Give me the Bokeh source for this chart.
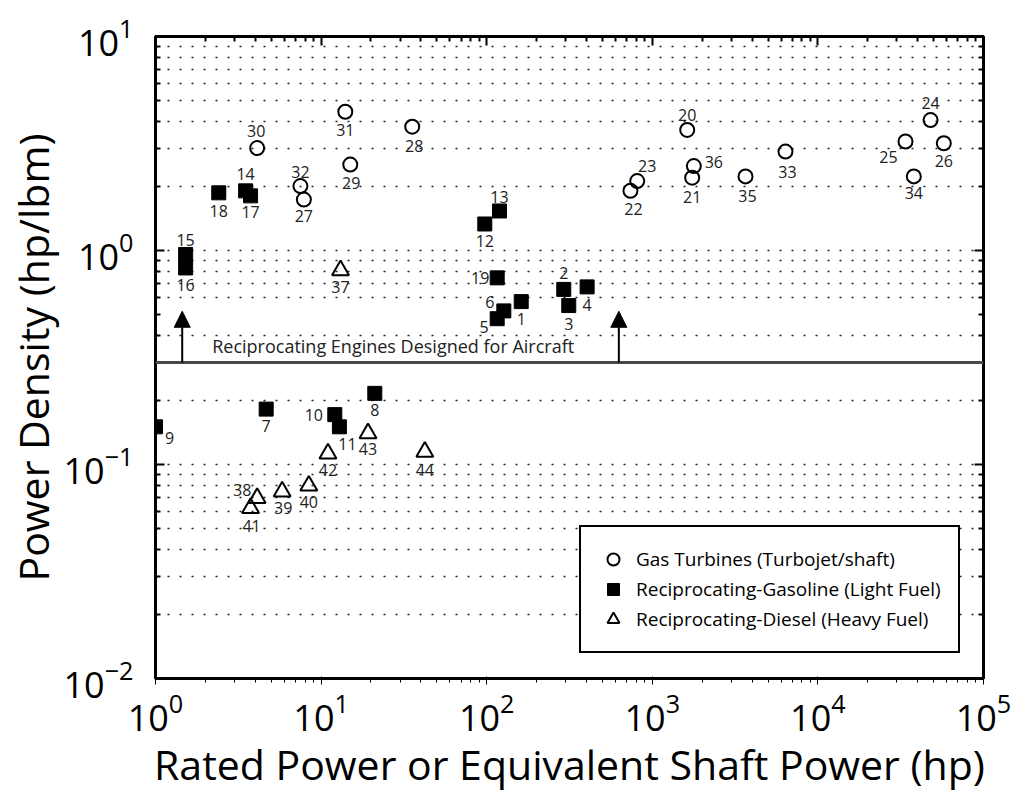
from bokeh.plotting import figure
from bokeh.models import (FixedTicker, LogAxis, Span, Arrow, NormalHead, Label,
                          Legend, LegendItem, ColumnDataSource)
from bokeh.embed import file_html
from bokeh.resources import INLINE
from bokeh.core.properties import value

# ---------------- data ----------------
# Gas turbines (turbojet / turboshaft)
gt_id = [20, 21, 22, 23, 24, 25, 26, 27, 28, 29, 30, 31, 32, 33, 34, 35, 36]
gt_power = [1625, 1741, 738, 811, 47900, 33800, 57600, 7.87, 35.5, 15.0,
            4.11, 14.0, 7.5, 6370, 37950, 3655, 1782]
gt_density = [3.66, 2.19, 1.90, 2.11, 4.07, 3.23, 3.17, 1.73, 3.79, 2.52,
              3.01, 4.45, 2.00, 2.90, 2.22, 2.22, 2.48]

# Reciprocating - gasoline (light fuel)
gas_id = [1, 2, 3, 4, 5, 6, 7, 8, 9, 10, 11, 12, 13, 14, 15, 16, 17, 18, 19]
gas_power = [161.6, 292, 313, 404, 115.7, 126.9, 4.66, 21.1, 1.0, 12.1, 12.9,
             97.4, 119.5, 3.50, 1.52, 1.52, 3.75, 2.41, 115.7]
gas_density = [0.577, 0.658, 0.553, 0.676, 0.480, 0.522, 0.1815, 0.215, 0.150,
               0.171, 0.150, 1.33, 1.53, 1.90, 0.958, 0.829, 1.80, 1.86, 0.745]

# Reciprocating - diesel (heavy fuel)
ds_id = [37, 38, 39, 40, 41, 42, 43, 44]
ds_power = [13.1, 4.11, 5.82, 8.43, 3.75, 11.0, 19.2, 42.3]
ds_density = [0.808, 0.0697, 0.0748, 0.0796, 0.0625, 0.1125, 0.140, 0.1146]

# aircraft reciprocating engine threshold and arrows
aircraft_threshold = 0.3
arrow_power = [1.45, 628]
arrow_top = 0.52

x_major = [1, 10, 100, 1e3, 1e4, 1e5]
y_major = [0.01, 0.1, 1, 10]

# ---------------- layout helpers ----------------
# label placement (screen px, +dy downward) per point number
label_offset = {
    1: (0, 17), 2: (0, -16), 3: (0, 18), 4: (0, 18), 5: (-13, 8), 6: (-14, -9),
    7: (0, 17), 8: (0, 17), 9: (14, 11), 10: (-21, 0), 11: (8, 17), 12: (0, 17),
    13: (0, -14), 14: (0, -17), 15: (0, -14), 16: (0, 17), 17: (0, 16), 18: (0, 18),
    19: (-17, 0), 20: (0, -15), 21: (0, 19), 22: (3, 18), 23: (10, -15), 24: (0, -17),
    25: (-17, 15), 26: (0, 18), 27: (0, 16), 28: (2, 19), 29: (1, 18), 30: (-1, -17),
    31: (0, 18), 32: (0, -14), 33: (2, 20), 34: (0, 17), 35: (2, 20), 36: (20, -4),
    37: (0, 17), 38: (-15, -8), 39: (1, 17), 40: (0, 16), 41: (1, 18), 42: (0, 16),
    43: (0, 16), 44: (0, 18),
}

x_minor = [k * 10 ** e for e in range(0, 5) for k in range(2, 10)]
y_minor = [k * 10.0 ** e for e in range(-2, 1) for k in range(2, 10)]
y_minor_grid = [v for v in y_minor if abs(v - 0.5) > 1e-9]

FONT = "Open Sans"

p = figure(width=1013, height=794, x_axis_type="log", y_axis_type="log",
           x_range=(1, 1e5), y_range=(0.01, 10),
           output_backend="svg", toolbar_location=None,
           min_border_left=155, min_border_right=30,
           min_border_top=36, min_border_bottom=111)
p.background_fill_color = "white"
p.border_fill_color = "white"
p.outline_line_color = "black"
p.outline_line_width = 3

# main axes
p.xaxis.ticker = FixedTicker(ticks=x_major, minor_ticks=x_minor)
p.yaxis.ticker = FixedTicker(ticks=y_major, minor_ticks=y_minor)
p.xaxis.axis_label = "Rated Power or Equivalent Shaft Power (hp)"
p.yaxis.axis_label = "Power Density (hp/lbm)"

for ax in (p.xaxis[0], p.yaxis[0]):
    ax.axis_label_text_font = FONT
    ax.axis_label_text_font_size = "41px"
    ax.axis_label_text_font_style = "normal"
    ax.axis_label_text_color = "black"
    ax.major_label_text_font = FONT
    ax.major_label_text_font_size = "36px"
    ax.major_label_text_color = "black"

p.yaxis.major_label_standoff = 22
p.yaxis.axis_label_standoff = 0
p.xaxis.major_label_standoff = 8
p.xaxis.axis_label_standoff = 2

# box axes on top and right (ticks only)
top_ax = LogAxis(ticker=FixedTicker(ticks=x_major, minor_ticks=x_minor))
right_ax = LogAxis(ticker=FixedTicker(ticks=y_major, minor_ticks=y_minor))
for ax in (top_ax, right_ax):
    ax.major_label_text_font_size = "6px"
    ax.major_label_text_alpha = 0
    ax.major_label_standoff = 0
p.add_layout(top_ax, "above")
p.add_layout(right_ax, "right")

for ax in (p.xaxis[0], p.yaxis[0], top_ax, right_ax):
    ax.axis_line_width = 3
    ax.axis_line_color = "black"
    ax.major_tick_in = 9
    ax.major_tick_out = 0
    ax.minor_tick_in = 5
    ax.minor_tick_out = 0
    ax.major_tick_line_width = 2
    ax.minor_tick_line_width = 2
    ax.major_tick_line_color = "black"
    ax.minor_tick_line_color = "black"

# grid: dotted horizontal lines only
p.xgrid.grid_line_color = None
p.ygrid.ticker = FixedTicker(ticks=y_major, minor_ticks=y_minor_grid)
p.ygrid.grid_line_color = "#222222"
p.ygrid.grid_line_dash = "2 10"
p.ygrid.grid_line_width = 1.6
p.ygrid.minor_grid_line_color = "#222222"
p.ygrid.minor_grid_line_dash = "2 10"
p.ygrid.minor_grid_line_width = 1.6

# threshold line, annotation text and arrows
p.add_layout(Span(location=aircraft_threshold, dimension="width",
                  line_color="#4a4a4a", line_width=3))
p.add_layout(Label(x=2.2, y=aircraft_threshold, y_offset=4,
                   text="Reciprocating Engines Designed for Aircraft",
                   text_font=FONT, text_font_size="18px", text_color="#222222",
                   text_baseline="bottom", text_align="left"))
for xa in arrow_power:
    p.add_layout(Arrow(end=NormalHead(size=16, fill_color="black", line_color="black"),
                       x_start=xa, y_start=aircraft_threshold, x_end=xa, y_end=arrow_top,
                       line_color="black", line_width=2))

# markers
r_gt = p.scatter(gt_power, gt_density, marker="circle", size=14,
                 fill_color=None, line_color="black", line_width=2)
r_gas = p.scatter(gas_power, gas_density, marker="square", size=14,
                  fill_color="black", line_color="black", line_width=1)
r_ds = p.scatter(ds_power, ds_density, marker="triangle", size=17,
                 fill_color=None, line_color="black", line_width=2)

# point number labels
ids = gt_id + gas_id + ds_id
lab = ColumnDataSource(dict(
    x=gt_power + gas_power + ds_power,
    y=gt_density + gas_density + ds_density,
    t=[str(i) for i in ids],
    dx=[label_offset[i][0] for i in ids],
    dy=[label_offset[i][1] for i in ids],
))
p.text(x="x", y="y", text="t", x_offset="dx", y_offset="dy", source=lab,
       text_font=value(FONT), text_font_size="16px", text_color="#222222",
       text_align="center", text_baseline="middle")

legend = Legend(items=[
    LegendItem(label="Gas Turbines (Turbojet/shaft)", renderers=[r_gt]),
    LegendItem(label="Reciprocating-Gasoline (Light Fuel)", renderers=[r_gas]),
    LegendItem(label="Reciprocating-Diesel (Heavy Fuel)", renderers=[r_ds]),
], location=(424, 25))
legend.border_line_color = "black"
legend.border_line_alpha = 1.0
legend.border_line_width = 2
legend.background_fill_color = "white"
legend.background_fill_alpha = 1
legend.label_text_font = FONT
legend.label_text_font_size = "19px"
legend.label_text_color = "black"
legend.glyph_width = 30
legend.glyph_height = 30
legend.label_height = 30
legend.spacing = 0
legend.padding = 17
legend.margin = 0
legend.label_standoff = 8
p.add_layout(legend)

open("out.html", "w").write(file_html(p, INLINE))
